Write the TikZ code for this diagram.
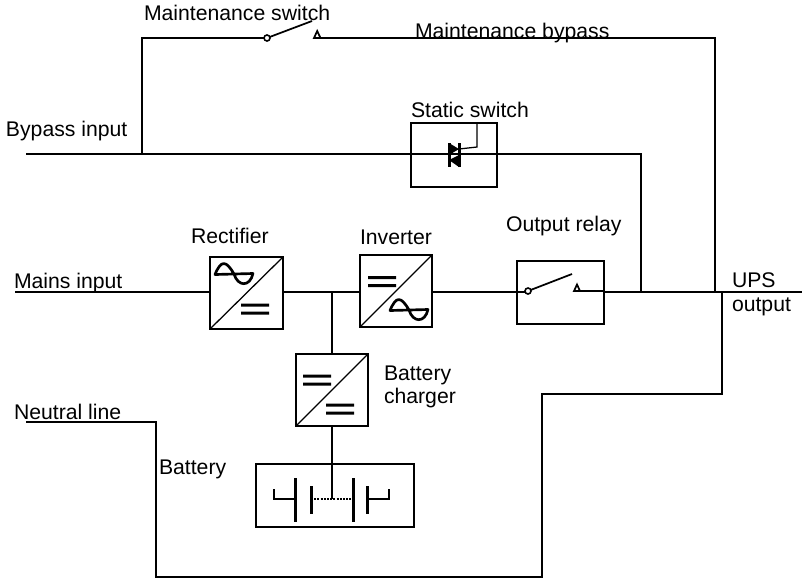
\documentclass[tikz,border=0pt]{standalone}
\usepackage{fontspec}
\setmainfont{Liberation Sans}
\tikzset{
  x=0.75pt,y=-0.75pt,
  wire/.style={line width=0.95pt,line join=miter},
  box/.style={draw,line width=1.1pt,inner sep=0pt,outer sep=0pt,anchor=north west},
  lab/.style={inner sep=0pt,outer sep=0pt,anchor=base west,font=\fontsize{15.9pt}{18pt}\selectfont,align=left},
  wave/.style={line width=2pt,line join=round},
  thin/.style={line width=0.95pt},
  pt/.style={inner sep=0pt,outer sep=0pt,minimum size=0pt},
}
\newcommand{\boxat}[5]{\node[box,minimum width=#4*0.75pt,minimum height=#5*0.75pt] (#1) at (#2,#3) {};}
\newcommand{\eqbars}[2]{\fill (#1-14,#2-5.5) rectangle (#1+14,#2-2.5) (#1-14,#2+2.5) rectangle (#1+14,#2+5.5);}
\newcommand{\plate}[3]{\fill (#1-1.5,#2) rectangle (#1+1.5,#3);}
\newcommand{\sinewave}[2]{\draw[wave] (#1-19,#2+0.5) .. controls (#1-13,#2-14) and (#1-8,#2-14) .. (#1,#2) .. controls (#1+4,#2+13) and (#1+16,#2+13) .. (#1+19,#2-0.5) -- cycle;}
\begin{document}
\begin{tikzpicture}
\useasboundingbox (0,0) rectangle (806,583);
% boxes
\boxat{stat}{411}{123}{86}{64}
\boxat{rect}{210}{257}{73}{72}
\boxat{inv}{360}{255}{72}{72}
\boxat{relay}{517}{261}{87}{63}
\boxat{chg}{296}{354}{72}{72}
\boxat{batt}{256}{464}{158}{63}
% named points
\coordinate (bypin) at (26,154);
\coordinate (mainsin) at (15,292);
\coordinate (neutin) at (26,422);
\coordinate (bypj) at (142,154);
\coordinate (mtl) at (142,38);
\coordinate (mtr) at (715,38);
\coordinate (outj) at (715,292);
\coordinate (statj) at (641,154);
\coordinate (statd) at (641,292);
\coordinate (outend) at (802,292);
\coordinate (dcj) at (332,292);
\coordinate (msA) at (267,38);
\coordinate (msB) at (317,38);
\coordinate (batj) at (332,499);
% wires
\draw[wire] (bypin) -- (bypj) -- (stat.west|-bypj);
\draw[wire] (bypj) -- (mtl) -- (msA);
\draw[wire] (msB) -- (mtr) -- (outj);
\draw[wire] (stat.east|-statj) -- (statj) -- (statd);
\draw[wire] (mainsin) -- (rect.west|-mainsin);
\draw[wire] (rect.east|-dcj) -- (dcj) -- (inv.west|-dcj);
\draw[wire] (inv.east|-dcj) -- (relay.west|-dcj);
\draw[wire] (relay.east|-dcj) -- (outend);
\draw[wire] (dcj) -- (chg.north-|dcj);
\draw[wire] (chg.south-|dcj) -- (batj);
\draw[wire] (neutin) -- (156,422) -- (156,577) -- (542,577) -- (542,394) -- (722,394) -- (722,292);
% static switch
\fill (411,153) rectangle (497,155.2);
\fill (449,143) -- (449,155) -- (459,149) -- cycle;
\fill (459,155) -- (459,167) -- (449,160) -- cycle;
\plate{449}{143}{167}
\plate{459}{143}{167}
\draw[wire] (459,149) -- (477,147) -- (477,123);
% maintenance switch
\draw[line width=1.3pt] (267,38) -- (312,21);
\node[pt,draw,circle,fill=white,line width=1.2pt,minimum size=4.5pt] at (267,38) {};
\draw[line width=1.3pt,fill=white] (314,38) -- (320.5,38) -- (317.2,31) -- cycle;
% relay
\draw[wire] (517,292) -- (528,292);
\draw[line width=1.3pt] (528,291) -- (572,274);
\node[pt,draw,circle,fill=white,line width=1.2pt,minimum size=4.5pt] at (528,291) {};
\draw[line width=1.3pt,fill=white] (574,291) -- (580,291) -- (577,284.5) -- cycle;
\draw[wire] (580,291) -- (604,291);
% converters
\draw[thin] (rect.south west) -- (rect.north east);
\draw[thin] (inv.south west) -- (inv.north east);
\draw[thin] (chg.south west) -- (chg.north east);
\sinewave{234}{274}
\eqbars{255}{309}
\eqbars{382}{281.5}
\sinewave{409}{310}
\eqbars{317}{380}
\eqbars{340}{409}
% battery
\draw[line width=1.1pt] (274,489) -- (274,499) -- (295,499);
\plate{295}{478}{522}
\plate{311}{486}{514}
\draw[line width=1.4pt,dash pattern=on 1.5pt off 0.9pt] (311,499) -- (353,499);
\plate{353}{478}{522}
\plate{367}{486}{514}
\draw[line width=1.1pt] (367,499) -- (389,499) -- (389,489);
% labels
\node[lab] (t1) at (144,20) {Maintenance switch};
\node[lab] (t2) at (415,38) {Maintenance bypass};
\node[lab] (t3) at (411,117) {Static switch};
\node[lab] (t4) at (6,136) {Bypass input};
\node[lab] (t5) at (191,243) {Rectifier};
\node[lab] (t6) at (360,244) {Inverter};
\node[lab] (t7) at (506,231) {Output relay};
\node[lab] (t8) at (14,288) {Mains input};
\node[lab] (t9) at (732,287) {UPS};
\node[lab] (t10) at (732,311) {output};
\node[lab] (t11) at (384,380) {Battery};
\node[lab] (t12) at (384,403) {charger};
\node[lab] (t13) at (14,419) {Neutral line};
\node[lab] (t14) at (159,474) {Battery};
\end{tikzpicture}
\end{document}
